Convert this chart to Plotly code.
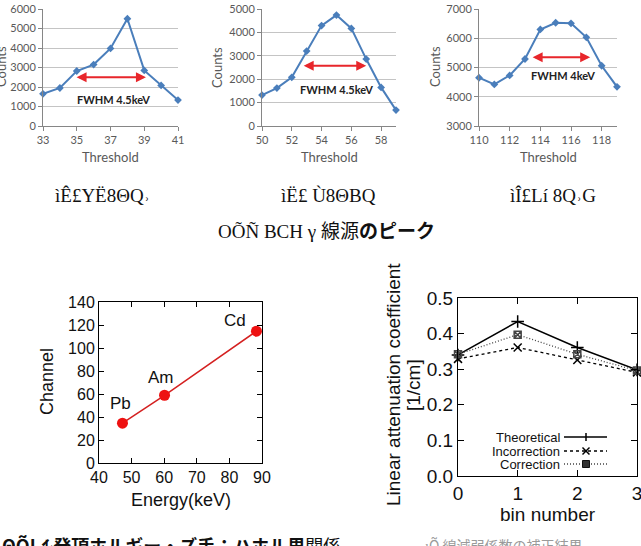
import plotly.graph_objects as go

W, H = 641, 546

# ---- data ----
thr_a = [33, 34, 35, 36, 37, 38, 39, 40, 41]
cnt_a = [1650, 1950, 2820, 3150, 3980, 5500, 2850, 2080, 1330]
fwhm_a = [34.9, 39.1]
fwhm_a_y = 2500
fwhm_a_txt = (37.2, 1380, "FWHM 4.5keV")

thr_b = [50, 51, 52, 53, 54, 55, 56, 57, 58, 59]
cnt_b = [1320, 1620, 2080, 3200, 4290, 4740, 4170, 2860, 1650, 680]
fwhm_b = [52.7, 57.0]
fwhm_b_y = 2580
fwhm_b_txt = (55.0, 1540, "FWHM 4.5keV")

thr_c = [110, 111, 112, 113, 114, 115, 116, 117, 118, 119]
cnt_c = [4650, 4420, 4730, 5290, 6300, 6530, 6510, 6030, 5060, 4340]
fwhm_c = [113.4, 117.25]
fwhm_c_y = 5350
fwhm_c_txt = (115.5, 4710, "FWHM 4keV")

energy = [47.2, 60.1, 88.3]
channel = [34.6, 58.9, 114.6]
source = ["Pb", "Am", "Cd"]
source_lbl_x = [46.5, 59.1, 81.8]
source_lbl_y = [52, 74.5, 124]

bins = [0, 1, 2, 3]
theo = [0.340, 0.434, 0.361, 0.298]
incorr = [0.329, 0.361, 0.326, 0.291]
corr = [0.342, 0.397, 0.342, 0.296]


def px(x):
    return x / W


def py(y):
    return 1 - y / H


fig = go.Figure()

BLUE = "#4A7EBB"
RED = "#E8262B"
XL_FONT = "Lato"

panels = [
    (thr_a, cnt_a, "x", "y"),
    (thr_b, cnt_b, "x2", "y2"),
    (thr_c, cnt_c, "x3", "y3"),
]
for xs, ys, xa, ya in panels:
    fig.add_trace(go.Scatter(x=xs, y=ys, mode="lines+markers", xaxis=xa, yaxis=ya,
                             line=dict(color=BLUE, width=2),
                             marker=dict(symbol="diamond", size=6, color=BLUE),
                             showlegend=False, cliponaxis=False))

fig.add_trace(go.Scatter(x=energy, y=channel, mode="lines+markers", xaxis="x4", yaxis="y4",
                         line=dict(color="#D42020", width=1.5),
                         marker=dict(symbol="circle", size=11, color="#EE1111"),
                         showlegend=False))

fig.add_trace(go.Scatter(x=bins, y=theo, mode="lines+markers", xaxis="x5", yaxis="y5",
                         line=dict(color="black", width=1.5),
                         marker=dict(symbol="cross-thin", size=9, line=dict(color="black", width=1.5)),
                         showlegend=False, cliponaxis=False))
fig.add_trace(go.Scatter(x=bins, y=incorr, mode="lines+markers", xaxis="x5", yaxis="y5",
                         line=dict(color="black", width=1.3, dash="3px,3px"),
                         marker=dict(symbol="x-thin", size=8, line=dict(color="black", width=1.5)),
                         showlegend=False, cliponaxis=False))
fig.add_trace(go.Scatter(x=bins, y=corr, mode="lines+markers", xaxis="x5", yaxis="y5",
                         line=dict(color="#444444", width=1.3, dash="1px,2px"),
                         marker=dict(symbol="square-x-open", size=7, line=dict(color="#222222", width=1.5)),
                         showlegend=False, cliponaxis=False))

tick_xl = dict(family=XL_FONT, size=11, color="#595959")


def top_x(dom, rng, t0, anchor):
    return dict(domain=[px(dom[0]), px(dom[1])], range=rng, tick0=t0, dtick=2, anchor=anchor,
                showgrid=False, showline=True, linecolor="#868686", linewidth=1, automargin=False,
                ticks="outside", ticklen=4, tickcolor="#868686", tickfont=tick_xl, zeroline=False)


def top_y(rng, anchor):
    return dict(domain=[py(126), py(9)], range=rng, dtick=1000, anchor=anchor,
                showgrid=True, gridcolor="#C4C4C4", gridwidth=1, showline=True, automargin=False,
                linecolor="#868686", linewidth=1, ticks="outside", ticklen=4,
                tickcolor="#868686", tickfont=tick_xl, zeroline=False)


gp_font = dict(family="Liberation Sans", size=16, color="#111111")
gp_font5 = dict(family="Liberation Sans", size=19, color="#111111")


def gp_axis(dom, rng, dt, anchor, font, tl, **kw):
    d = dict(domain=dom, range=rng, dtick=dt, anchor=anchor, automargin=False,
             showline=True, mirror="ticks", linecolor="black", linewidth=1,
             ticks="inside", ticklen=tl, tickcolor="black", showgrid=False, zeroline=False,
             tickfont=font)
    d.update(kw)
    return d


fig.update_layout(
    width=W, height=H, margin=dict(l=0, r=0, t=0, b=0, autoexpand=False),
    paper_bgcolor="white", plot_bgcolor="rgba(0,0,0,0)",
    xaxis=top_x((43, 178), [33, 41], 33, "y"),
    yaxis=top_y([0, 6000], "x"),
    xaxis2=top_x((262, 396), [50, 59], 50, "y2"),
    yaxis2=top_y([0, 5000], "x2"),
    xaxis3=top_x((479, 617), [110, 119], 110, "y3"),
    yaxis3=top_y([3000, 7000], "x3"),
    xaxis4=gp_axis([px(99), px(262)], [40, 90], 10, "y4", gp_font, 5),
    yaxis4=gp_axis([py(463), py(302)], [0, 140], 20, "x4", gp_font, 5),
    xaxis5=gp_axis([px(458), px(637)], [0, 3], 1, "y5", gp_font5, 6, ticklabeloverflow="allow"),
    yaxis5=gp_axis([py(476), py(298)], [0, 0.5], 0.1, "x5", gp_font5, 6, tickformat=".1f"),
)

ann = []


def pa(x, y, text, font, angle=0, xanchor="center", bp=1):
    return dict(x=px(x), y=py(y), xref="paper", yref="paper", showarrow=False, text=text,
                textangle=angle, font=font, xanchor=xanchor, yanchor="middle", borderpad=bp)


# FWHM arrows and labels
for (fw, fy, (tx, ty, tt), xa, ya) in [
    (fwhm_a, fwhm_a_y, fwhm_a_txt, "x", "y"),
    (fwhm_b, fwhm_b_y, fwhm_b_txt, "x2", "y2"),
    (fwhm_c, fwhm_c_y, fwhm_c_txt, "x3", "y3"),
]:
    ann.append(dict(x=fw[1], y=fy, ax=fw[0], ay=fy, xref=xa, yref=ya, axref=xa, ayref=ya,
                    showarrow=True, arrowhead=2, arrowside="end+start", arrowsize=1,
                    arrowwidth=2, arrowcolor=RED, text=""))
    ann.append(dict(x=tx, y=ty, xref=xa, yref=ya, showarrow=False, text="<b>%s</b>" % tt,
                    xanchor="center", yanchor="middle",
                    font=dict(family=XL_FONT, size=11, color="#222222")))

xl_title = dict(family=XL_FONT, size=13, color="#595959")
# top axis titles
for cx in [1, 217, 435]:
    ann.append(pa(cx, 67, "Counts", xl_title, angle=-90))
for cx in [110, 329, 548]:
    ann.append(pa(cx, 157, "Threshold", xl_title))

# source labels
for sx, sy, s in zip(source_lbl_x, source_lbl_y, source):
    ann.append(dict(x=sx, y=sy, xref="x4", yref="y4", showarrow=False, text=s,
                    xanchor="center", yanchor="middle",
                    font=dict(family="Liberation Sans", size=17, color="#111111")))

gpt = dict(family="Liberation Sans", size=18, color="#111111")
gpt5 = dict(family="Liberation Sans", size=19, color="#111111")
# bottom-left axis titles
ann.append(pa(47, 382, "Channel", gpt, angle=-90))
ann.append(pa(181, 500, "Energy(keV)", gpt))

# bottom-right axis titles
ann.append(pa(393, 385, "Linear attenuation coefficient", gpt5, angle=-90))
ann.append(pa(413, 385, "[1/cm]", gpt5, angle=-90))
ann.append(pa(548, 514, "bin number", gpt5))

# manual legend (text on left, sample on right)
leg_names = ["Theoretical", "Incorrection", "Correction"]
leg_y = [437, 451, 464]
leg_dash = ["solid", "3px,3px", "1px,2px"]
leg_col = ["black", "black", "#444444"]
shapes = []
legf = dict(family="Liberation Sans", size=13, color="#111111")
for nm, yy, ds, cl in zip(leg_names, leg_y, leg_dash, leg_col):
    ann.append(pa(561, yy, nm, legf, xanchor="right", bp=0))
    shapes.append(dict(type="line", xref="paper", yref="paper", x0=px(564), x1=px(607),
                       y0=py(yy), y1=py(yy), line=dict(color=cl, width=1.4, dash=ds)))

mk = dict(color="black", width=1.5)
cx = 586
# "+" sample
y0 = leg_y[0]
shapes.append(dict(type="line", xref="paper", yref="paper", x0=px(cx), x1=px(cx),
                   y0=py(y0 - 4), y1=py(y0 + 4), line=mk))
# "x" sample
y1 = leg_y[1]
shapes.append(dict(type="line", xref="paper", yref="paper", x0=px(cx - 3.5), x1=px(cx + 3.5),
                   y0=py(y1 - 3.5), y1=py(y1 + 3.5), line=mk))
shapes.append(dict(type="line", xref="paper", yref="paper", x0=px(cx - 3.5), x1=px(cx + 3.5),
                   y0=py(y1 + 3.5), y1=py(y1 - 3.5), line=mk))
# square sample
y2 = leg_y[2]
shapes.append(dict(type="rect", xref="paper", yref="paper", x0=px(cx - 3.5), x1=px(cx + 3.5),
                   y0=py(y2 + 3.5), y1=py(y2 - 3.5), fillcolor="#333333",
                   line=dict(color="#111111", width=1)))

# captions (garbled as in the source image)
cap_font = dict(family="Liberation Serif, Noto Sans CJK JP", size=19, color="#111111")
ann.append(pa(102, 195, "ìÊ£YË8ΘQ˒", cap_font))
ann.append(pa(328, 195, "ìË£ Ù8ΘBQ", cap_font))
ann.append(pa(553, 195, "ìÎ£Lí 8Q˒G", cap_font))
ann.append(pa(326, 231, "OÕÑ BCH γ 線源<b>のピーク</b>", cap_font))
ann.append(pa(0, 545, "<b>ΘÕĹ ﾚ発頂ホルギー・ズ手：ハホル里</b>関係",
              dict(family="Noto Sans CJK JP", size=18, color="#111111"), xanchor="left"))
ann.append(pa(423, 545, "ıÕ 線減弱係数の補正結果",
              dict(family="Noto Sans CJK JP", size=14, color="#9A9A9A"), xanchor="left"))

fig.update_layout(annotations=ann, shapes=shapes)

fig.write_html("out.html")
